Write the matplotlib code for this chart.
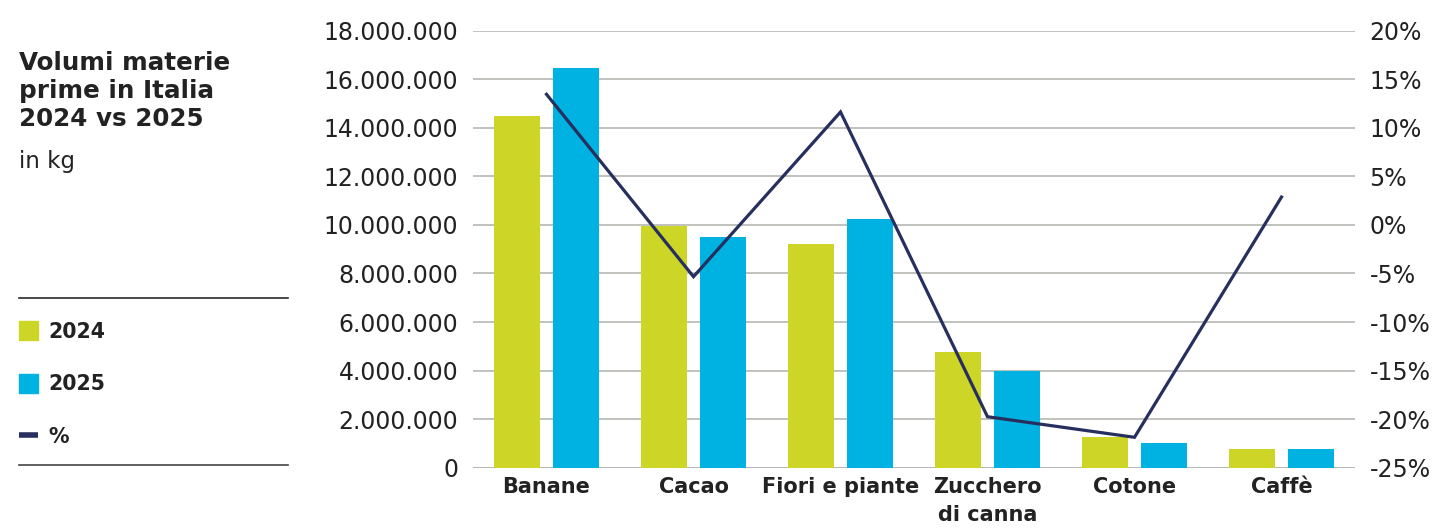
import matplotlib
matplotlib.use("Agg")
import matplotlib.pyplot as plt
from matplotlib.patches import Rectangle
from matplotlib.lines import Line2D
from matplotlib.ticker import FuncFormatter
import numpy as np

# ---- data ----
categories = ["Banane", "Cacao", "Fiori e piante", "Zucchero\ndi canna", "Cotone", "Caffè"]
vol_2024 = [14_490_000, 9_970_000, 9_210_000, 4_760_000, 1_260_000, 770_000]
vol_2025 = [16_460_000, 9_490_000, 10_240_000, 3_980_000, 1_020_000, 770_000]
pct_change = [13.45, -5.33, 11.63, -19.75, -21.87, 2.87]

left_ticks = list(range(0, 18_000_001, 2_000_000))
right_ticks = list(range(-25, 21, 5))

# ---- style ----
C24 = "#cdd626"
C25 = "#00b2e2"
CLINE = "#262f5e"
CGRID = "#b4b7b2"
CTEXT = "#222222"
FONT = ["DejaVu Sans"]
W, H = 1439, 528

fig = plt.figure(figsize=(W / 100, H / 100), dpi=100)

def fx(x):
    return x / W

def fy(y):
    return 1 - y / H

ax = fig.add_axes([fx(473), fy(467.7), fx(1355) - fx(473), fy(30.7) - fy(467.7)])
x = np.arange(len(categories))
bw = 0.313
ax.bar(x - 0.2, vol_2024, width=bw, color=C24, zorder=2)
ax.bar(x + 0.2, vol_2025, width=bw, color=C25, zorder=2)
ax.set_xlim(-0.5, len(categories) - 0.5)
ax.set_ylim(0, 18_000_000)
ax.set_yticks(left_ticks)
ax.yaxis.set_major_formatter(FuncFormatter(lambda v, p: f"{int(v):,}".replace(",", ".")))
for t in left_ticks:
    ax.axhline(t, color=CGRID if t > 0 else "#a9aca7", lw=1.2, zorder=1)
for s in ax.spines.values():
    s.set_visible(False)
ax.tick_params(axis="y", length=0, pad=10.5, labelsize=17, labelcolor=CTEXT)
ax.tick_params(axis="x", length=0, pad=7)
ax.set_xticks(x)
ax.set_xticklabels(categories, fontsize=15, fontweight="bold", color=CTEXT,
                   family=FONT, linespacing=1.45)
for lab in ax.get_yticklabels():
    lab.set_family(FONT)

ax2 = ax.twinx()
ax2.plot(x, pct_change, color=CLINE, lw=2.3, zorder=3, solid_joinstyle="miter")
ax2.set_ylim(-25, 20)
ax2.set_yticks(right_ticks)
ax2.yaxis.set_major_formatter(FuncFormatter(lambda v, p: f"{int(v)}%"))
ax2.tick_params(axis="y", length=0, pad=10.5, labelsize=17, labelcolor=CTEXT)
for lab in ax2.get_yticklabels():
    lab.set_family(FONT)
for s in ax2.spines.values():
    s.set_visible(False)

# ---- title ----
fig.text(fx(19), fy(51), "Volumi materie\nprime in Italia\n2024 vs 2025", ha="left", va="top",
         fontsize=17.7, fontweight="bold", color=CTEXT, linespacing=1.22, family=FONT)
fig.text(fx(19), fy(150), "in kg", ha="left", va="top", fontsize=16.5, color=CTEXT, family=FONT)

# ---- legend ----
fig.add_artist(Line2D([fx(19), fx(288)], [fy(298), fy(298)], color="#2a2a2a", lw=1.2))
fig.add_artist(Line2D([fx(19), fx(288)], [fy(465), fy(465)], color="#444444", lw=1.2))
fig.add_artist(Rectangle((fx(19), fy(340)), fx(19), 19 / H, color=C24, transform=fig.transFigure))
fig.add_artist(Rectangle((fx(19), fy(393)), fx(19), 19 / H, color=C25, transform=fig.transFigure))
fig.add_artist(Line2D([fx(19), fx(38)], [fy(434.5), fy(434.5)], color=CLINE, lw=4, solid_capstyle="butt"))
for yy, txt in [(332, "2024"), (384, "2025"), (437, "%")]:
    fig.text(fx(48), fy(yy), txt, ha="left", va="center", fontsize=14.8, fontweight="bold",
             color=CTEXT, family=FONT)

fig.savefig("out.png", dpi=100)
